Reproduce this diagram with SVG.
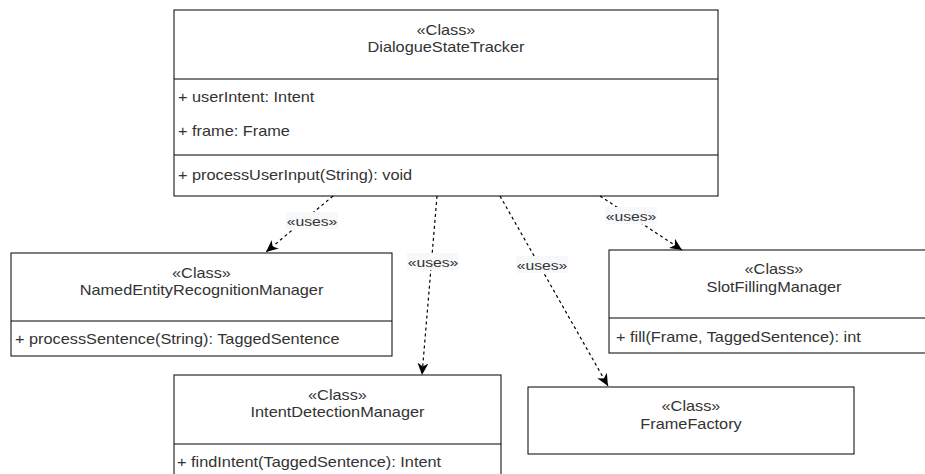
<svg xmlns="http://www.w3.org/2000/svg" width="925" height="474" viewBox="0 0 925 474">
  <defs>
    <style>
      .box { fill: #ffffff; stroke: #000000; stroke-width: 1; }
      .div { stroke: #000000; stroke-width: 1; fill: none; }
      .t { font-family: "Liberation Sans", Arial, Helvetica, sans-serif; font-size: 14px; fill: #333333; }
      .c { text-anchor: middle; }
      .edge { stroke: #000000; stroke-width: 1.2; stroke-dasharray: 3 3; fill: none; marker-end: url(#arrow); }
      .lblbg { fill: #f7f8f9; stroke: none; }
      .lbl { font-family: "Liberation Sans", Arial, Helvetica, sans-serif; font-size: 13.5px; fill: #333333; text-anchor: middle; }
    </style>
    <marker id="arrow" markerUnits="userSpaceOnUse" markerWidth="13" markerHeight="11" viewBox="0 0 13 11" refX="12" refY="5.5" orient="auto">
      <path d="M0,0 L12,5.5 L0,11 L3.5,5.5 z" fill="#000000"/>
    </marker>
  </defs>

  <!-- DialogueStateTracker -->
  <g id="dialogue-state-tracker">
    <rect class="box" x="174" y="10" width="544" height="186"/>
    <line class="div" x1="174" y1="79" x2="718" y2="79"/>
    <line class="div" x1="174" y1="155" x2="718" y2="155"/>
    <text class="t c" transform="translate(446 34.5) scale(1.165 1)">«Class»</text>
    <text class="t c" transform="translate(446 52) scale(1.165 1)">DialogueStateTracker</text>
    <text class="t" transform="translate(178 101.5) scale(1.165 1)">+ userIntent: Intent</text>
    <text class="t" transform="translate(178 135.5) scale(1.165 1)">+ frame: Frame</text>
    <text class="t" transform="translate(178 180) scale(1.165 1)">+ processUserInput(String): void</text>
  </g>

  <!-- NamedEntityRecognitionManager -->
  <g id="named-entity-recognition-manager">
    <rect class="box" x="11" y="253" width="381" height="103"/>
    <line class="div" x1="11" y1="321" x2="392" y2="321"/>
    <text class="t c" transform="translate(201.5 277.5) scale(1.165 1)">«Class»</text>
    <text class="t c" transform="translate(201.5 295) scale(1.165 1)">NamedEntityRecognitionManager</text>
    <text class="t" transform="translate(15 343.5) scale(1.165 1)">+ processSentence(String): TaggedSentence</text>
  </g>

  <!-- SlotFillingManager -->
  <g id="slot-filling-manager">
    <rect class="box" x="609" y="250" width="330" height="103"/>
    <line class="div" x1="609" y1="318" x2="939" y2="318"/>
    <text class="t c" transform="translate(774 274) scale(1.165 1)">«Class»</text>
    <text class="t c" transform="translate(774 291.5) scale(1.165 1)">SlotFillingManager</text>
    <text class="t" transform="translate(616 341.5) scale(1.165 1)">+ fill(Frame, TaggedSentence): int</text>
  </g>

  <!-- IntentDetectionManager -->
  <g id="intent-detection-manager">
    <rect class="box" x="174" y="375" width="327" height="110"/>
    <line class="div" x1="174" y1="444" x2="501" y2="444"/>
    <text class="t c" transform="translate(337.5 399.5) scale(1.165 1)">«Class»</text>
    <text class="t c" transform="translate(337.5 416.5) scale(1.165 1)">IntentDetectionManager</text>
    <text class="t" transform="translate(177 467) scale(1.165 1)">+ findIntent(TaggedSentence): Intent</text>
  </g>

  <!-- FrameFactory -->
  <g id="frame-factory">
    <rect class="box" x="528" y="387" width="326" height="67"/>
    <text class="t c" transform="translate(691 411) scale(1.165 1)">«Class»</text>
    <text class="t c" transform="translate(691 428.5) scale(1.165 1)">FrameFactory</text>
  </g>

  <!-- dependency connectors -->
  <g id="connectors">
    <path class="edge" d="M333,196 L266,252"/>
    <path class="edge" d="M437,196 L422,375"/>
    <path class="edge" d="M500,196 L608,386"/>
    <path class="edge" d="M600,196 L682,250"/>

    <rect class="lblbg" x="286" y="212" width="52" height="17"/>
    <text class="lbl" transform="translate(312 225.5) scale(1.165 1)">«uses»</text>
    <rect class="lblbg" x="407" y="253" width="52" height="17"/>
    <text class="lbl" transform="translate(433 266.5) scale(1.165 1)">«uses»</text>
    <rect class="lblbg" x="516" y="256" width="52" height="17"/>
    <text class="lbl" transform="translate(542 269.5) scale(1.165 1)">«uses»</text>
    <rect class="lblbg" x="605" y="207" width="52" height="17"/>
    <text class="lbl" transform="translate(631 220.5) scale(1.165 1)">«uses»</text>
  </g>
</svg>
